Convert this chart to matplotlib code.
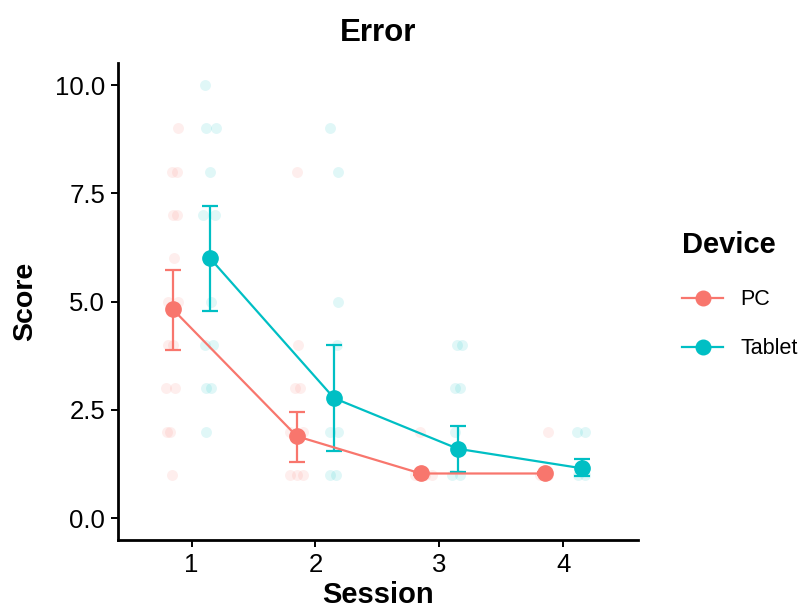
import matplotlib.pyplot as plt
from matplotlib.lines import Line2D
import numpy as np

plt.rcParams['font.family'] = ['Liberation Sans', 'DejaVu Sans']

sessions = [1, 2, 3, 4]
devices = ['PC', 'Tablet']
colors = {'PC': '#F8766D', 'Tablet': '#00BFC4'}

# means and confidence limits per session
pc_mean = [4.82, 1.89, 1.03, 1.03]
pc_lo = [3.88, 1.29, 0.99, 0.99]
pc_hi = [5.74, 2.45, 1.07, 1.07]
tab_mean = [6.00, 2.77, 1.60, 1.15]
tab_lo = [4.79, 1.56, 1.07, 0.97]
tab_hi = [7.20, 4.00, 2.13, 1.36]

pc_raw_x = [0.89, 0.84, 0.885, 0.853, 0.885, 0.86, 0.81, 0.89, 0.81, 0.85, 0.79, 0.87,
            0.80, 0.83, 0.84,
            1.85, 1.86, 1.835, 1.875, 1.795, 1.90, 1.795, 1.85, 1.90,
            2.84, 2.80, 2.88, 2.94,
            3.875, 3.81, 3.875]
pc_raw_y = [9, 8, 8, 7, 7, 6, 5, 5, 4, 4, 3, 3,
            2, 2, 1,
            8, 4, 3, 3, 2, 2, 1, 1, 1,
            2, 1, 1, 1,
            2, 1, 1]
tab_raw_x = [1.11, 1.12, 1.20, 1.15, 1.095, 1.19, 1.155, 1.11, 1.175, 1.12, 1.155, 1.12,
             2.12, 2.18, 2.18, 2.17, 2.12, 2.18, 2.12, 2.165,
             3.14, 3.18, 3.125, 3.17, 3.125, 3.10, 3.165,
             4.11, 4.175, 4.12, 4.175]
tab_raw_y = [10, 9, 9, 8, 7, 7, 5, 4, 4, 3, 3, 2,
             9, 8, 5, 4, 2, 2, 1, 1,
             4, 4, 3, 3, 2, 1, 1,
             2, 2, 1, 1]

dodge = 0.15


def main():
    fig = plt.figure(figsize=(8.08, 6.1), dpi=100)
    ax = fig.add_axes([0.1455, 0.1145, 0.6445, 0.782])

    ax.scatter(pc_raw_x, pc_raw_y, s=62, color=colors['PC'], alpha=0.12,
               linewidths=0, zorder=1)
    ax.scatter(tab_raw_x, tab_raw_y, s=62, color=colors['Tablet'], alpha=0.12,
               linewidths=0, zorder=1)

    x = np.array(sessions, dtype=float)
    for dev, mean, lo, hi, off in [('PC', pc_mean, pc_lo, pc_hi, -dodge),
                                   ('Tablet', tab_mean, tab_lo, tab_hi, dodge)]:
        mean = np.array(mean)
        yerr = [mean - np.array(lo), np.array(hi) - mean]
        ax.errorbar(x + off, mean, yerr=yerr, color=colors[dev], lw=1.6,
                    capsize=5.5, capthick=1.6, elinewidth=1.6, marker='o',
                    markersize=11, zorder=3)

    ax.set_xlim(0.403, 4.605)
    ax.set_ylim(-0.51, 10.51)
    ax.set_xticks(sessions)
    ax.set_yticks([0, 2.5, 5.0, 7.5, 10.0])
    ax.set_yticklabels(['0.0', '2.5', '5.0', '7.5', '10.0'])
    ax.tick_params(labelsize=18.5, length=5, width=1.4, colors='black', pad=4)
    for side in ['top', 'right']:
        ax.spines[side].set_visible(False)
    for side in ['left', 'bottom']:
        ax.spines[side].set_linewidth(2)

    ax.set_xlabel('Session', fontsize=21, fontweight='bold', labelpad=3)
    ax.set_ylabel('Score', fontsize=20.5, fontweight='bold', labelpad=12)
    ax.set_title('Error', fontsize=22.5, fontweight='bold', pad=16)

    handles = [Line2D([], [], color=colors[d], lw=1.6, marker='o', markersize=10.5)
               for d in devices]
    leg = fig.legend(handles, devices, title='Device', loc='upper left',
                     bbox_to_anchor=(0.834, 0.636), frameon=False, fontsize=15.5,
                     title_fontproperties={'size': 21, 'weight': 'bold'},
                     labelspacing=1.3, handlelength=1.9, handletextpad=0.8,
                     borderaxespad=0)
    leg._legend_box.align = 'left'
    leg._legend_box.sep = 22

    fig.savefig('out.png', dpi=100)


if __name__ == '__main__':
    main()
